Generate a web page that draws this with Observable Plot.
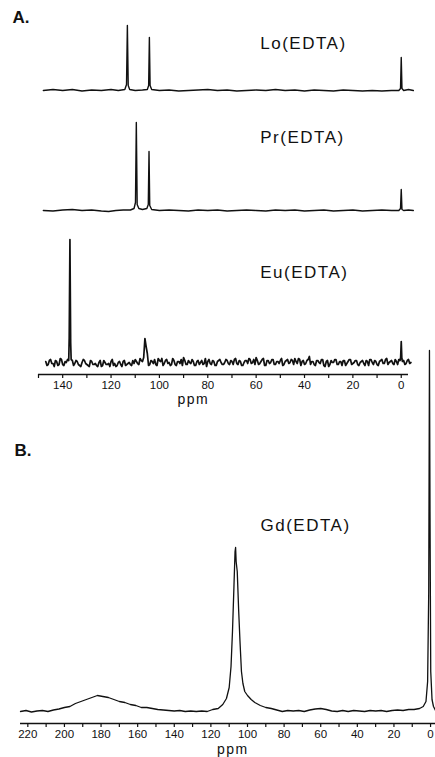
<!DOCTYPE html>
<html>
<head>
<meta charset="utf-8">
<script src="https://cdn.jsdelivr.net/npm/d3@7"></script>
<script src="https://cdn.jsdelivr.net/npm/@observablehq/plot@0.6"></script>
<style>
  html, body { margin: 0; padding: 0; background: #fff; }
  #wrap { position: relative; width: 435px; height: 757px; overflow: hidden; background: #fff; }
  #wrap svg { position: absolute; left: 0; overflow: visible; background: transparent; }
  #wrap svg text.lbl, #wrap svg g.lbl text { letter-spacing: 1.5px; }
</style>
</head>
<body>
<div id="wrap"></div>
<script>
// ---------- DATA (ppm, intensity) ----------
const seriesLabels = ["Lo(EDTA)", "Pr(EDTA)", "Eu(EDTA)", "Gd(EDTA)"];
const panelLabels = ["A.", "B."];

const laSpectrum = [[148,0],[144,1],[140,0],[136,1],[132,-0.5],[128,0.5],[124,0],[120,1],[117,0],[114.3,1],[113.6,6],[113.25,65],[112.9,5],[112.3,1],[110,0],[107,0.5],[105,1],[104.45,5],[104.15,53],[103.85,5],[103.2,1],[100,0],[96,0.5],[92,-0.5],[88,0],[84,0.5],[80,1],[76,0],[72,0.5],[68,-0.5],[64,0],[60,0.5],[56,0],[52,1],[48,0],[44,0.5],[40,-0.5],[36,0.5],[32,0],[28,-0.5],[24,0.5],[20,0],[16,-0.5],[12,0],[8,-0.5],[4,0],[1,0],[0.3,2],[0,33],[-0.3,2],[-1,0],[-3,1],[-5,0]];

const prSpectrum = [[148,0],[144,-0.5],[140,0.5],[136,1],[132,0],[128,0.5],[124,-0.5],[121,-1],[118,0],[115,0.5],[112,0.5],[110.5,2],[109.9,8],[109.55,88],[109.2,6],[108.5,2],[107,1],[105.2,2],[104.6,6],[104.3,59],[104,5],[103.2,1],[100,0],[96,0.5],[92,0],[88,-0.5],[84,0.5],[80,0],[76,0.5],[72,-0.5],[68,0],[64,0.5],[60,0],[56,-0.5],[52,0.5],[48,0],[44,0.5],[40,-0.5],[36,0],[32,0.5],[28,-0.5],[24,0],[20,0.5],[16,-0.5],[12,0],[8,0.5],[4,0],[1,0],[0.3,2],[0,21],[-0.3,1],[-1,0],[-3,0.5],[-5,0]];

// Eu: intensities read every 1 ppm from 147 down to -4 ...
const euStart = 147;
const euValues = [1,-2,3,-1,2,-3,4,-2,1,3,123,2,-1,1,-3,0,2,-2,-4,1,-2,-3,0,-4,2,-2,-1,1,-3,-4,0,-2,1,-3,-1,-2,2,3,-1,4,1,24,9,-2,1,3,-3,2,4,-1,3,0,-2,2,-3,1,3,5,-2,2,-1,1,-3,2,0,-2,4,1,-1,2,-3,1,3,-2,0,2,-2,1,3,-1,2,-3,0,2,4,-1,3,5,-2,1,4,-3,2,0,3,-2,1,2,-3,1,3,0,2,4,-1,3,1,-2,2,6,1,-2,2,0,3,-3,1,-4,2,0,3,-2,1,2,-3,1,3,-1,2,-2,0,2,-3,1,3,0,2,-2,1,3,-1,4,0,2,-2,1,3,21,2,-1,3,0];
// ... and at the half-ppm points in between (146.5 down to -3.5)
const euMidStart = 146.5;
const euMidValues = [-3,2,-1,-4,1,-2,3,-3,0,2, 3,-3,2,-2,-4,3,-1,-3,2,-2, -1,-4,2,-3,0,-2,-4,3,-1,-3, 1,-4,2,-2,0,-3,-1,1,-2,2, 5,16,-3,2,-1,-2,4,1,-3,2, -1,-3,4,-2,1,-1,-3,2,-2,0, 3,-3,1,-2,2,-1,-4,3,-2,1, -3,2,0,-2,3,-1,2,-2,4,-2, 1,-3,2,-1,3,0,-2,2,-1,3, -3,2,-1,3,-2,1,-1,4,-2,2, -1,3,-2,1,4,-3,2,-1,3,-2, 1,-3,2,-1,3,-4,2,-2,0,3, -2,1,-3,2,-1,3,-2,0,2,-3, 1,-1,2,-3,3,-2,1,-3,2,-1, 3,-2,1,-1,3,-2,2,1,-2,2, -1];
const euPeakShoulders = [[137.3,25],[136.7,20],[0.25,5],[-0.25,4]];

const gdSpectrum = [[224,0],[221,1],[218,-0.5],[215,0.5],[212,1],[209,0],[206,1.5],[203,2.5],[200,4],[197,5],[194,8],[191,10],[188,12],[185,14],[182,16],[179,15],[176,14],[173,12],[170,10],[167,9],[164,7],[161,6],[158,4],[155,4],[152,3],[149,2],[146,1.5],[143,1],[140,0.5],[137,1],[134,0],[131,0.5],[128,0],[125,0.5],[122,0],[119,2],[116,3],[113.5,7],[111.5,13],[110,24],[109,45],[108.2,80],[107.4,125],[106.8,160],[106.5,164],[106.2,150],[105.6,140],[104.8,100],[104.1,70],[103.3,40],[102.5,28],[101.5,20],[100,16],[98,12],[96,9],[93,6],[90,4],[87,3],[84,1.5],[81,0],[78,1],[75,0.5],[72,1],[69,0],[66,1.5],[63,2.5],[60,3],[57,2],[54,0.5],[51,0],[48,1],[45,0],[42,1],[39,0.5],[36,0],[33,1],[30,0.5],[27,1],[24,0],[21,1],[18,1.5],[15,1],[12,2],[9,2],[6,3],[4,5],[2.5,10],[1.6,30],[1,120],[0.6,361],[0.3,200],[-0.1,40],[-0.8,12],[-1.6,5],[-2.7,1]];

// axis ticks
const aTicks = [150,140,130,120,110,100,90,80,70,60,50,40,30,20,10,0];
const aTickLabels = [140,120,100,80,60,40,20,0];
const bTicks = [220,210,200,190,180,170,160,150,140,130,120,110,100,90,80,70,60,50,40,30,20,10,0];
const bTickLabels = [220,200,180,160,140,120,100,80,60,40,20,0];
const axisTitle = "ppm";

// ---------- build ----------
const euSpectrum = euValues.map((v, i) => [euStart - i, v])
  .concat(euMidValues.map((v, i) => [euMidStart - i, v]))
  .concat(euPeakShoulders)
  .sort((a, b) => b[0] - a[0]);
const pts = (arr, name, off) => arr.map(([p, v]) => ({ppm: p, y: v + off, series: name}));

const offsetsA = {La: 284, Pr: 164, Eu: 12};
const dataLaPr = [
  ...pts(laSpectrum, "La", offsetsA.La),
  ...pts(prSpectrum, "Pr", offsetsA.Pr)
];
const dataEu = pts(euSpectrum, "Eu", offsetsA.Eu);

const font = "'Liberation Sans', Arial, sans-serif";
const labelStyle = {fontSize: 17, fontFamily: font, fill: "#111", className: "lbl"};

const plotA = Plot.plot({
  width: 435, height: 410,
  marginLeft: 38, marginRight: 27, marginTop: 0, marginBottom: 36,
  x: {domain: [150, -3]},
  y: {domain: [0, 374], axis: null},
  style: {fontFamily: font, fontSize: "11px", color: "#111", background: "transparent", overflow: "visible"},
  marks: [
    Plot.ruleY([0], {stroke: "#111", strokeWidth: 1.4}),
    Plot.axisX({ticks: aTicks, tickFormat: d => aTickLabels.includes(d) ? String(d) : "", tickSize: 4, tickPadding: 2, label: null, stroke: "#111", strokeWidth: 1.2, fontSize: 11.5}),
    Plot.text([axisTitle], {x: 86, frameAnchor: "bottom", dy: 29, fontSize: 14, fontFamily: font, fill: "#111", className: "lbl"}),
    Plot.line(dataLaPr, {x: "ppm", y: "y", z: "series", stroke: "#111", strokeWidth: 1.4}),
    Plot.line(dataEu, {x: "ppm", y: "y", stroke: "#111", strokeWidth: 1.7}),
    Plot.text([seriesLabels[0]], {x: 58.3, y: 331, textAnchor: "start", ...labelStyle}),
    Plot.text([seriesLabels[1]], {x: 58.3, y: 237, textAnchor: "start", ...labelStyle}),
    Plot.text([seriesLabels[2]], {x: 58.3, y: 102, textAnchor: "start", ...labelStyle}),
    Plot.text([panelLabels[0]], {frameAnchor: "top-left", dx: -26, dy: 17, textAnchor: "start", lineAnchor: "middle", fontSize: 17, fontWeight: "bold", fontFamily: font, fill: "#111"})
  ]
});

const dataB = pts(gdSpectrum, "Gd", 0);
const yB = [-12, 371];
const plotB = Plot.plot({
  width: 435, height: 417,
  marginLeft: 20, marginRight: 0, marginTop: 0, marginBottom: 34,
  x: {domain: [224, -2.7]},
  y: {domain: yB, axis: null},
  style: {fontFamily: font, fontSize: "11px", color: "#111", background: "transparent", overflow: "visible"},
  marks: [
    Plot.ruleY([yB[0]], {stroke: "#111", strokeWidth: 1.4}),
    Plot.axisX({ticks: bTicks, tickFormat: d => bTickLabels.includes(d) ? String(d) : "", tickSize: 4, tickPadding: 2, label: null, stroke: "#111", strokeWidth: 1.2, fontSize: 11.5}),
    Plot.text([axisTitle], {x: 108, frameAnchor: "bottom", dy: 30, fontSize: 14, fontFamily: font, fill: "#111", className: "lbl"}),
    Plot.line(dataB, {x: "ppm", y: "y", stroke: "#111", strokeWidth: 1.3}),
    Plot.text([seriesLabels[3]], {x: 92.9, y: 186, textAnchor: "start", ...labelStyle}),
    Plot.text([panelLabels[1]], {frameAnchor: "top-left", dx: -6, dy: 110, textAnchor: "start", lineAnchor: "middle", fontSize: 17, fontWeight: "bold", fontFamily: font, fill: "#111"})
  ]
});

plotA.style.top = "0px";
plotB.style.top = "340px";
const wrap = document.getElementById("wrap");
wrap.appendChild(plotA);
wrap.appendChild(plotB);
</script>
</body>
</html>
